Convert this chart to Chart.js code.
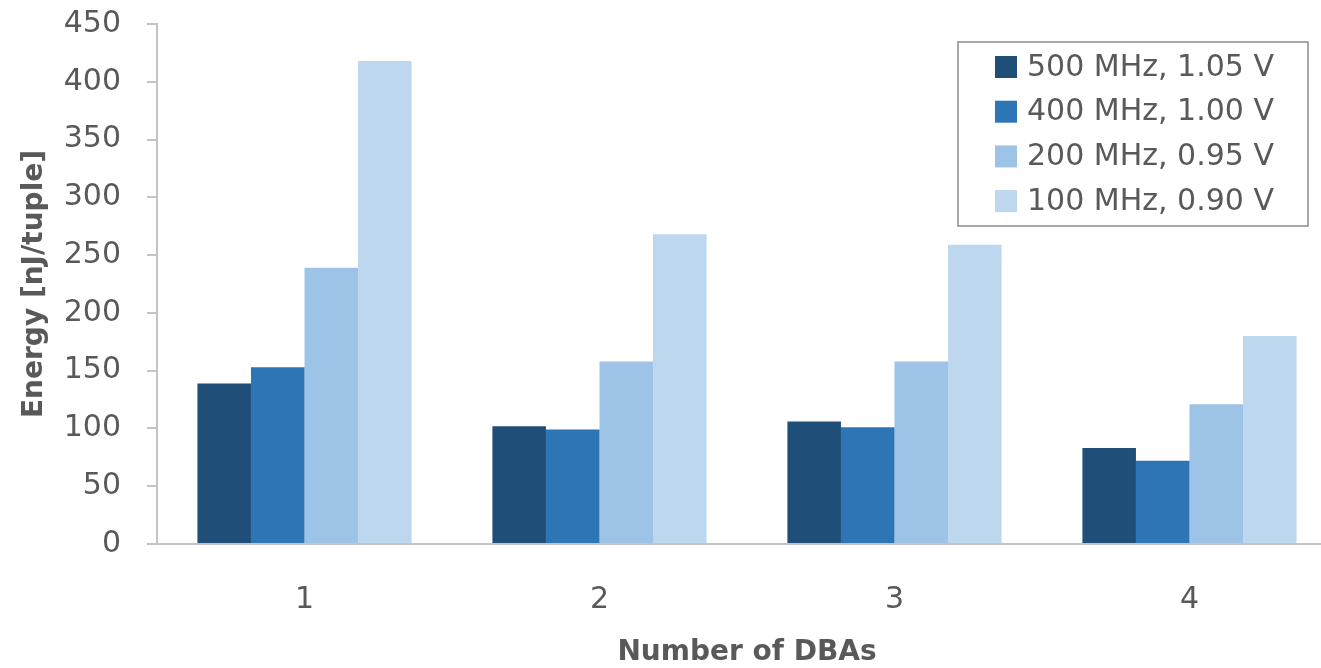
<!DOCTYPE html>
<html>
<head>
<meta charset="utf-8">
<title>Energy per tuple vs. number of DBAs</title>
<script src="https://cdn.jsdelivr.net/npm/chart.js@4/dist/chart.umd.min.js"></script>
<style>
  html, body { margin: 0; padding: 0; background: #ffffff; overflow: hidden; }
  #wrap { width: 1321px; height: 668px; overflow: hidden; }
  canvas { display: block; }
</style>
</head>
<body>
<div id="wrap"><canvas id="chart" width="1340" height="668"></canvas></div>
<script>
// Number of DBAs on the x axis
const categories = ['1', '2', '3', '4'];

// Operating points (frequency, voltage)
const seriesLabels = ['500 MHz, 1.05 V', '400 MHz, 1.00 V', '200 MHz, 0.95 V', '100 MHz, 0.90 V'];

// Energy in nJ per tuple for each operating point
const energy500 = [139, 102, 106, 83];
const energy400 = [153, 99, 101, 72];
const energy200 = [239, 158, 158, 121];
const energy100 = [418, 268, 259, 180];

const seriesColors = ['#1F4E79', '#2E75B6', '#9DC3E6', '#BDD7EE'];

const yTicks = [0, 50, 100, 150, 200, 250, 300, 350, 400, 450];

const FONT = "'DejaVu Sans', sans-serif";
const TEXT = '#595959';
const AXIS = '#C4C4C4';

// Boxed legend drawn inside the plot area, top right
const boxedLegend = {
  id: 'boxedLegend',
  afterDraw(chart) {
    const ctx = chart.ctx;
    const x0 = 958, y0 = 42, w = 350, h = 184;
    ctx.save();
    ctx.fillStyle = '#ffffff';
    ctx.fillRect(x0, y0, w, h);
    ctx.strokeStyle = '#8C8C8C';
    ctx.lineWidth = 1.5;
    ctx.strokeRect(x0, y0, w, h);
    ctx.font = '30px ' + FONT;
    ctx.textBaseline = 'middle';
    ctx.textAlign = 'left';
    chart.data.datasets.forEach((ds, i) => {
      const cy = 67 + i * 44.7;
      ctx.fillStyle = ds.backgroundColor;
      ctx.fillRect(995, cy - 11, 22, 22);
      ctx.fillStyle = TEXT;
      ctx.fillText(ds.label, 1027, cy + 1);
    });
    ctx.restore();
  }
};

const datasets = [energy500, energy400, energy200, energy100].map((vals, i) => ({
  label: seriesLabels[i],
  data: vals,
  backgroundColor: seriesColors[i],
  borderWidth: 0,
  categoryPercentage: 0.726,
  barPercentage: 1.0
}));

new Chart(document.getElementById('chart'), {
  type: 'bar',
  data: { labels: categories, datasets },
  options: {
    responsive: false,
    animation: false,
    layout: { padding: { top: 24, right: 3, bottom: 0, left: 0 } },
    plugins: {
      legend: { display: false },
      tooltip: { enabled: false }
    },
    scales: {
      x: {
        offset: true,
        grid: { display: false, drawTicks: false },
        border: { display: true, color: AXIS, width: 2 },
        ticks: {
          color: TEXT,
          font: { family: FONT, size: 30 },
          padding: 38
        },
        title: {
          display: true,
          text: 'Number of DBAs',
          color: TEXT,
          font: { family: FONT, size: 28, weight: 'bold', lineHeight: 1.1 },
          padding: { top: 0, bottom: 0 }
        },
        afterFit(scale) { scale.height = 124; }
      },
      y: {
        min: 0,
        max: 450,
        afterBuildTicks(scale) { scale.ticks = yTicks.map(v => ({ value: v })); },
        grid: {
          display: true,
          drawOnChartArea: false,
          drawTicks: true,
          tickLength: 10,
          color: AXIS,
          lineWidth: 2
        },
        border: { display: true, color: AXIS, width: 2 },
        ticks: {
          color: TEXT,
          font: { family: FONT, size: 30 },
          padding: 26
        },
        title: {
          display: true,
          text: 'Energy [nJ/tuple]',
          color: TEXT,
          font: { family: FONT, size: 28, weight: 'bold' },
          padding: { top: 18, bottom: 0 }
        },
        afterFit(scale) {
          scale.width = 157;
          scale.paddingTop = 0;
          scale.paddingBottom = 0;
        }
      }
    }
  },
  plugins: [boxedLegend]
});
</script>
</body>
</html>
